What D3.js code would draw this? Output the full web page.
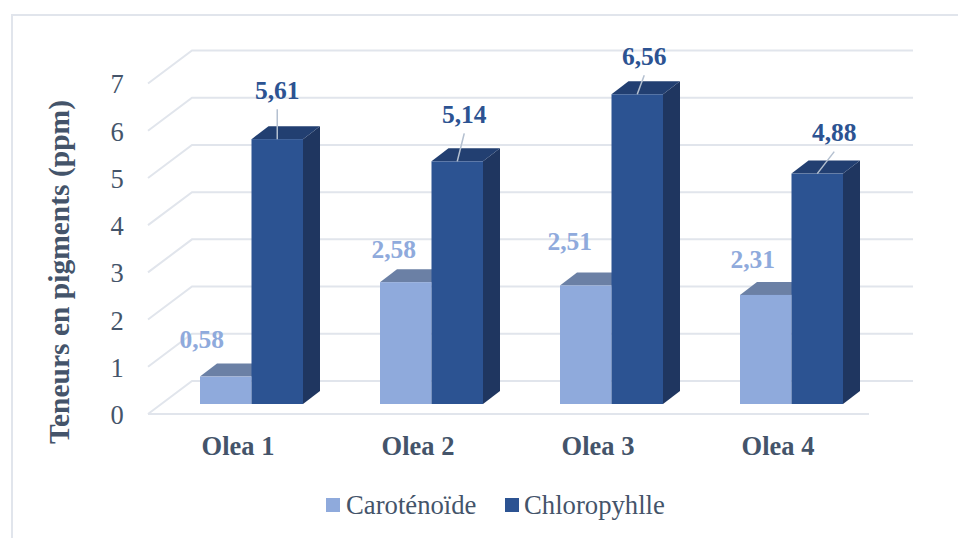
<!DOCTYPE html>
<html><head><meta charset="utf-8">
<script src="https://cdn.jsdelivr.net/npm/d3@7"></script>
<style>html,body{margin:0;padding:0;background:#fff}svg{display:block}text{font-family:"Liberation Serif",serif}</style>
</head><body><div id="chart"></div>
<script>
const categories = ["Olea 1", "Olea 2", "Olea 3", "Olea 4"];
const seriesNames = ["Caroténoïde", "Chloropyhlle"];
const carotenoide = [0.58, 2.58, 2.51, 2.31];
const chlorophylle = [5.61, 5.14, 6.56, 4.88];
const yTicks = [0, 1, 2, 3, 4, 5, 6, 7];

// Label displacement from the top-centre of each bar's front face, in pixels.
const carotenoideLabelShift = [[-24, -37], [-12, -33], [-16, -44], [-13, -36]];
const chlorophylleLabelShift = [[0, -49], [7, -47], [7, -38], [17, -41]];

const W = 958, H = 538;
const C = {
  frame: "#e1e5ec", grid: "#e1e5ec", text: "#44546a", leader: "#b4c0d0",
  light: "#8faadc", lightTop: "#6b80a5",
  dark: "#2c5392", darkTop: "#223f71", darkSide: "#1f3660"
};

const svg = d3.select("#chart").append("svg").attr("width", W).attr("height", H);

// Oblique projection: floor front edge, back wall offset, and bar placement in depth.
const front = { left: 148, right: 869, base: 414 };
const wall = { dx: 44, dy: -33 };
const barInset = { dx: 13.5, dy: -10 };
const barDepth = { dx: 17, dy: -13 };

const x = d3.scaleBand().domain(categories).range([front.left, front.right - 1]).paddingInner(0).paddingOuter(0);
const y = d3.scaleLinear().domain([0, 7]).range([front.base, front.base - 330.5]);
const barW = 51.5;
const groupW = barW * 2;

// Chart frame
svg.append("path").attr("d", `M12,${H}V15H${W}`).attr("fill", "none")
  .attr("stroke", C.frame).attr("stroke-width", 2);

// Back-wall gridlines and side-wall diagonals
const grid = svg.append("g").attr("fill", "none").attr("stroke", C.grid).attr("stroke-width", 2);
yTicks.forEach(t => {
  const yy = y(t);
  grid.append("path").attr("d",
    `M${front.left},${yy}L${front.left + wall.dx},${yy + wall.dy}H${front.right + wall.dx}`);
});
grid.append("path").attr("d", `M${front.left},${front.base}H${front.right}`);

// One cuboid per value
function bar(g, left, value, faces) {
  const top = y(value) + barInset.dy, base = y(0) + barInset.dy, right = left + barW;
  const dx = barDepth.dx, dy = barDepth.dy;
  if (faces.side) g.append("path").attr("fill", faces.side)
    .attr("d", `M${right},${top}L${right + dx},${top + dy}V${base + dy}L${right},${base}Z`);
  g.append("path").attr("fill", faces.top)
    .attr("d", `M${left},${top}L${left + dx},${top + dy}H${right + dx}L${right},${top}Z`);
  g.append("rect").attr("x", left).attr("y", top).attr("width", barW).attr("height", base - top)
    .attr("fill", faces.front);
}

const bars = svg.append("g");
categories.forEach((c, i) => {
  const start = x(c) + (x.bandwidth() - groupW) / 2 + barInset.dx;
  bar(bars, start, carotenoide[i], { front: C.light, top: C.lightTop });
  bar(bars, start + barW, chlorophylle[i], { front: C.dark, top: C.darkTop, side: C.darkSide });
});

// Value labels and their leader lines
const fmt = v => v.toFixed(2).replace(".", ",");
const labels = svg.append("g").attr("font-weight", "bold").attr("font-size", 25.5).attr("text-anchor", "middle");
categories.forEach((c, i) => {
  const start = x(c) + (x.bandwidth() - groupW) / 2 + barInset.dx;
  const lx = start + barW / 2, dxc = start + barW * 1.5;
  const ly = y(carotenoide[i]) + barInset.dy, dy = y(chlorophylle[i]) + barInset.dy;
  const [ax, ay] = carotenoideLabelShift[i], [bx, by] = chlorophylleLabelShift[i];
  labels.append("text").attr("x", lx + ax).attr("y", ly + ay).attr("dy", "0.34em")
    .attr("fill", C.light).text(fmt(carotenoide[i]));
  labels.append("text").attr("x", dxc + bx).attr("y", dy + by).attr("dy", "0.34em")
    .attr("fill", C.dark).text(fmt(chlorophylle[i]));
  svg.append("line").attr("x1", dxc).attr("y1", dy)
    .attr("x2", dxc + bx).attr("y2", dy + by + 19)
    .attr("stroke", C.leader).attr("stroke-width", 1.5);
});

// Value axis
svg.append("g").attr("font-size", 26.5).attr("fill", C.text).attr("text-anchor", "middle")
  .selectAll("text").data(yTicks).join("text")
  .attr("x", 117).attr("y", d => y(d) + 2).attr("dy", "0.3em").text(d => d);

// Category axis
svg.append("g").attr("font-size", 26.5).attr("font-weight", "bold").attr("fill", C.text).attr("text-anchor", "middle")
  .selectAll("text").data(categories).join("text")
  .attr("x", d => x(d) + x.bandwidth() / 2).attr("y", 455).text(d => d);

// Axis title
svg.append("text").attr("transform", "translate(69,272) rotate(-90)")
  .attr("text-anchor", "middle").attr("font-size", 29.5).attr("font-weight", "bold")
  .attr("fill", C.text).text("Teneurs en pigments (ppm)");

// Legend
const legend = svg.append("g").attr("font-size", 26.7).attr("fill", C.text);
[[326, 346, C.light], [505, 524, C.dark]].forEach(([sx, tx, col], i) => {
  legend.append("rect").attr("x", sx).attr("y", 498).attr("width", 14).attr("height", 14).attr("fill", col);
  legend.append("text").attr("x", tx).attr("y", 514).text(seriesNames[i]);
});
</script></body></html>
